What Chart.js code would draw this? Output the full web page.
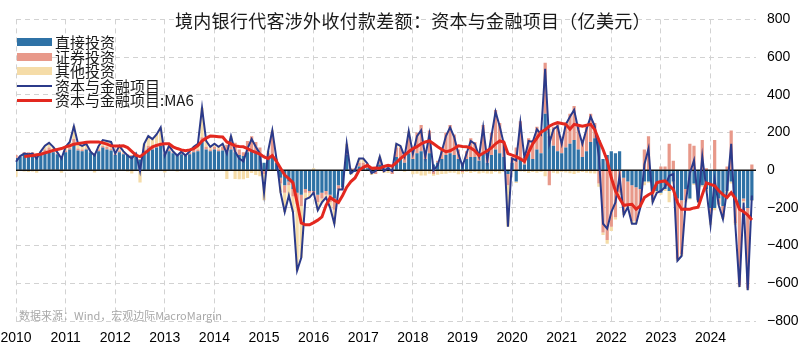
<!DOCTYPE html>
<html><head><meta charset="utf-8">
<script src="https://cdn.jsdelivr.net/npm/chart.js@4.4.1/dist/chart.umd.min.js"></script>
<style>
html,body{margin:0;padding:0;background:#fff;}
#wrap{position:relative;width:800px;height:348px;overflow:hidden;}
canvas{position:absolute;left:0;top:0;}
#title{position:absolute;left:175px;top:9px;white-space:nowrap;font-family:"Noto Sans CJK SC";font-size:18px;letter-spacing:0.3px;color:#1a1a1a;line-height:22px;}
#legend{position:absolute;left:17px;top:35px;font-family:"Noto Sans CJK SC";font-size:15px;color:#1a1a1a;}
.row{position:relative;height:14.5px;line-height:14.5px;white-space:nowrap;}
.sw{position:absolute;left:0;width:35px;}
.row span.t{position:absolute;left:38px;top:0;}
#src{position:absolute;left:19px;top:307px;font-family:"Noto Sans CJK SC";font-size:11px;color:#a8a8a8;white-space:nowrap;}
</style></head><body>
<div id="wrap">
<canvas id="c" width="800" height="348" style="width:800px;height:348px"></canvas>
<div id="title">境内银行代客涉外收付款差额：资本与金融项目（亿美元）</div>
<div id="legend">
 <div class="row"><div class="sw" style="top:3px;height:8px;background:#2f72a6"></div><span class="t">直接投资</span></div>
 <div class="row"><div class="sw" style="top:3px;height:8px;background:#e8998a"></div><span class="t">证券投资</span></div>
 <div class="row"><div class="sw" style="top:3px;height:8px;background:#f5dca8"></div><span class="t">其他投资</span></div>
 <div class="row"><div class="sw" style="top:6px;height:2.5px;background:#2b3a8a"></div><span class="t">资本与金融项目</span></div>
 <div class="row"><div class="sw" style="top:6px;height:3px;background:#e3281f"></div><span class="t">资本与金融项目:MA6</span></div>
</div>
<div id="src">数据来源：Wind，宏观边际MacroMargin</div>
</div>
<script>
// tick labels
const yearTicks = ['2010','2011','2012','2013','2014','2015','2016','2017','2018','2019','2020','2021','2022','2023','2024'];
// categories: monthly
const months = [];
for (const y of yearTicks) { for (let m = 1; m <= 12; m++) months.push(y + '-' + String(m).padStart(2, '0')); }

// 直接投资 (亿美元)
const direct = [
 65,70,85,80,85,70,80,95,100,95,85,70,
 95,110,140,105,100,110,95,85,100,120,110,105,
 80,95,85,80,75,80,55,100,115,110,120,130,
 85,100,90,80,85,75,85,95,100,150,110,100,
 110,100,105,95,110,95,80,75,95,110,100,80,
 40,60,70,40,-40,-80,-60,-100,-120,-130,-100,-110,
 -110,-130,-120,-110,-130,-150,-80,-90,80,-20,-10,20,
 20,10,-10,5,30,10,15,5,70,60,40,90,
 60,90,100,60,90,30,40,60,80,90,80,60,
 40,60,70,70,50,90,40,80,110,90,70,-20,
 40,-60,60,30,90,60,110,90,300,180,130,100,
 90,120,140,160,110,70,100,150,170,160,60,80,
 100,90,100,-40,-60,-80,-90,-100,-60,-60,-120,-110,
 -120,-100,-110,-60,-150,-160,-100,-150,-70,-160,-80,-100,
 -200,-200,-150,-190,-110,-60,-150,-200,-150,-200,-160
];
// 证券投资
const portfolio = [
 15,5,10,15,10,5,10,15,20,10,5,5,
 10,10,25,10,10,5,5,5,10,10,15,10,
 5,10,5,5,5,10,5,10,15,10,20,15,
 5,10,5,5,10,5,10,15,10,25,15,10,
 15,10,20,40,60,50,30,20,60,70,50,40,
 -20,30,130,20,-30,-40,-20,-40,-60,-60,-20,-10,
 -20,-40,-30,-20,-40,-60,-20,-10,30,10,10,20,
 20,20,10,-20,30,-10,10,-20,50,60,40,80,
 50,110,140,40,120,-20,10,60,120,150,110,50,
 -10,40,100,80,40,150,30,120,210,160,80,-60,
 30,120,200,40,80,100,120,110,270,-80,100,150,
 60,135,160,180,120,80,130,150,80,-70,-330,-370,
 -300,-250,-120,-180,-120,-190,-180,-90,110,180,-40,0,
 20,20,140,50,-320,-285,-60,140,130,0,160,10,
 -30,160,-30,-60,20,210,-130,-410,-15,-426,30
];
// 其他投资
const otherInv = [
 -35,0,-7,-10,-7,-13,10,20,25,19,5,-13,
 19,30,68,25,19,25,0,-12,19,30,30,35,
 3,24,10,-7,-18,-2,-65,30,51,45,50,82,
 -12,19,5,-7,3,-2,5,14,30,156,30,14,
 15,14,15,-47,11,-47,-48,-48,-41,-15,-26,-32,
 -139,13,12,2,-49,-102,-54,-82,-352,-275,-35,-25,
 11,-42,-21,-15,-30,-74,-3,-3,30,-6,0,22,
 22,6,-16,10,12,-5,-15,10,20,9,-8,37,
 -22,-19,-28,-28,-19,-10,-24,-20,-19,-13,-14,-22,
 -9,-10,-15,-10,-18,-13,-18,-19,-10,-17,-10,-220,
 -8,-8,-7,-8,-15,-10,-13,-9,-32,40,-13,-17,
 -10,-12,-16,-20,-13,-10,-13,-16,-17,-18,-14,-20,
 -22,-11,-11,-18,-16,-14,-14,-10,-20,-6,-10,-10,
 -10,-10,-60,-10,-10,-10,-11,-6,-8,-11,-8,-13,
 -60,-12,-6,-9,-13,-10,-10,-10,-6,-10,-4
];
// 资本与金融项目
const capAcct = [
 45,75,88,85,88,62,100,130,145,124,95,62,
 124,150,233,140,129,140,100,78,129,160,155,150,
 88,129,100,78,62,88,-5,140,181,165,190,227,
 78,129,100,78,98,78,100,124,140,331,155,124,
 140,124,140,88,181,98,62,47,114,165,124,88,
 -119,103,212,62,-119,-222,-134,-222,-532,-465,-155,-145,
 -119,-212,-171,-145,-200,-284,-103,-103,140,-16,0,62,
 62,36,-16,-5,72,-5,10,-5,140,129,72,207,
 88,181,212,72,191,0,26,100,181,227,176,88,
 21,90,155,140,72,227,52,181,310,233,140,-300,
 62,52,253,62,155,150,217,191,538,140,217,233,
 140,243,284,320,217,140,217,284,233,72,-284,-310,
 -222,-171,-31,-238,-196,-284,-284,-200,30,114,-170,-120,
 -110,-90,-30,-20,-480,-455,-171,-16,52,-171,72,-103,
 -290,-52,-186,-259,-103,140,-290,-620,-171,-636,-134
];
// 资本与金融项目:MA6
const capMA6 = [
 null,null,72,75,78,82,85,92,98,105,110,115,
 124,130,138,142,145,148,150,150,150,145,138,129,
 128,128,129,120,100,80,72,88,105,124,132,138,
 140,140,124,115,108,103,108,114,130,155,170,181,
 180,178,176,150,140,129,126,124,115,103,95,85,
 70,62,78,47,10,-26,-45,-67,-171,-280,-290,-290,
 -278,-265,-248,-186,-145,-160,-171,-134,-90,-60,-41,0,
 15,26,10,12,10,20,26,21,40,62,80,98,
 115,125,140,150,155,140,124,110,98,103,115,129,
 126,124,118,103,78,90,103,118,140,155,150,88,
 80,72,60,47,95,140,170,202,215,233,245,253,
 248,243,217,243,238,233,238,243,215,160,110,52,
 -40,-110,-150,-186,-183,-181,-207,-190,-145,-130,-119,-67,
 -60,-57,-80,-103,-171,-207,-207,-207,-200,-196,-130,-67,
 -75,-83,-109,-130,-145,-119,-150,-207,-220,-238,-264
];

const zeroLine = {
  id: 'zeroLine',
  afterDatasetDraw(chart, args) {
    if (args.index !== 0) return;
    const y = chart.scales.y.getPixelForValue(0);
    const a = chart.chartArea, ctx = chart.ctx;
    ctx.save();
    ctx.strokeStyle = '#111';
    ctx.lineWidth = 1.5;
    ctx.beginPath(); ctx.moveTo(a.left, y); ctx.lineTo(a.right, y); ctx.stroke();
    ctx.restore();
  }
};

const gridCol = '#d2d2d2';
new Chart(document.getElementById('c'), {
  type: 'bar',
  data: {
    labels: months,
    datasets: [
      {type:'bar', label:'直接投资', data:direct, backgroundColor:'#2f72a6', stack:'s', order:2, barPercentage:0.78, categoryPercentage:1},
      {type:'bar', label:'证券投资', data:portfolio, backgroundColor:'#e8998a', stack:'s', order:2, barPercentage:0.78, categoryPercentage:1},
      {type:'bar', label:'其他投资', data:otherInv, backgroundColor:'#f5dca8', stack:'s', order:2, barPercentage:0.78, categoryPercentage:1},
      {type:'line', label:'资本与金融项目', data:capAcct, borderColor:'#2b3a8a', borderWidth:2, pointRadius:0, tension:0, stack:'l1', order:1, fill:false},
      {type:'line', label:'资本与金融项目:MA6', data:capMA6, borderColor:'#e3281f', borderWidth:3, pointRadius:0, tension:0, stack:'l2', order:0, fill:false}
    ]
  },
  options: {
    responsive: false,
    animation: false,
    devicePixelRatio: 1,
    layout: {padding: {left: 16, right: 0, top: 12, bottom: 0}},
    plugins: {legend: {display: false}, tooltip: {enabled: false}, title: {display: false}},
    scales: {
      x: {
        type: 'category', offset: false, stacked: true,
        grid: {offset: false, drawTicks: false, lineWidth: 1, color: c => (c.index % 12 === 0 ? gridCol : 'rgba(0,0,0,0)')},
        border: {display: false, dash: [5, 4]},
        ticks: {autoSkip: false, maxRotation: 0, minRotation: 0, padding: 9, color: '#000',
          font: {family: 'Liberation Sans', size: 14},
          callback: (v, i) => (i % 12 === 0 ? yearTicks[i / 12] : '')},
        afterFit: s => { s.height = 27; s.paddingLeft = 0; s.paddingRight = 0; }
      },
      y: {
        position: 'right', stacked: true, min: -800, max: 800,
        grid: {drawTicks: false, color: gridCol, lineWidth: 1},
        border: {display: false, dash: [5, 4]},
        ticks: {stepSize: 200, padding: 11, color: '#000', font: {family: 'Liberation Sans', size: 14},
          callback: v => String(v).replace('-', '\u2212')},
        afterFit: s => { s.width = 44; }
      }
    }
  },
  plugins: [zeroLine]
});
</script>
</body></html>
